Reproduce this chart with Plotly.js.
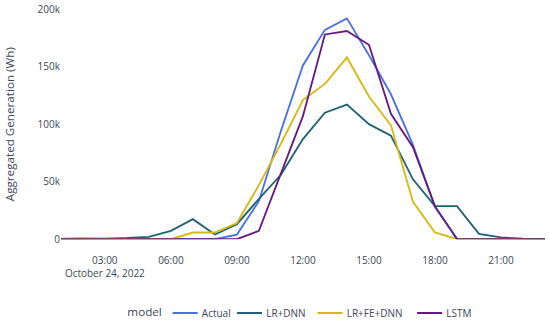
<!DOCTYPE html>
<html>
<head>
<meta charset="utf-8">
<script src="https://cdn.plot.ly/plotly-3.0.1.min.js"></script>
<style>
html,body{margin:0;padding:0;background:#fff;overflow:hidden;width:550px;height:323px;}
#chart{width:660px;height:388px;transform:scale(0.83333);transform-origin:0 0;}
</style>
</head>
<body>
<div id="chart"></div>
<script>
const hours = ["2022-10-24 01:00","2022-10-24 02:00","2022-10-24 03:00","2022-10-24 04:00","2022-10-24 05:00","2022-10-24 06:00","2022-10-24 07:00","2022-10-24 08:00","2022-10-24 09:00","2022-10-24 10:00","2022-10-24 11:00","2022-10-24 12:00","2022-10-24 13:00","2022-10-24 14:00","2022-10-24 15:00","2022-10-24 16:00","2022-10-24 17:00","2022-10-24 18:00","2022-10-24 19:00","2022-10-24 20:00","2022-10-24 21:00","2022-10-24 22:00","2022-10-24 23:00"];
const actual   = [0,0,0,0,0,0,0,0,4000,33000,94000,151000,182000,192000,160000,126000,82000,28000,500,0,0,0,0];
const lrDnn    = [0,0,500,1000,2000,7200,17400,4000,13000,35000,56000,87000,110000,117000,100000,90000,52000,28700,28700,4600,1500,500,0];
const lrFeDnn  = [500,1000,500,0,0,0,5800,5800,14000,47000,83000,121000,135000,158000,124000,99000,32500,5800,0,0,0,0,0];
const lstm     = [0,0,0,0,0,0,0,0,0,7200,57000,107000,178000,181000,169000,109000,80000,28700,0,0,0,0,0];
const seriesNames = ["Actual","LR+DNN","LR+FE+DNN","LSTM"];
const seriesData = [actual, lrDnn, lrFeDnn, lstm];
const colors = ["#4a6fe3","#1f6275","#d9b80f","#661a7e"];
const legendIds = ["legend","legend2","legend3","legend4"];
const legendX = [0.134, 0.3554, 0.5217, 0.7273];

const traces = seriesNames.map((n,i)=>({
  x: hours, y: seriesData[i], name: n, type: "scatter", mode: "lines",
  legend: legendIds[i],
  line: {color: colors[i], width: 2.2}
}));

const fontColor = "#3b4658";
const layout = {
  width: 660, height: 388,
  margin: {l: 73, r: 6, t: 11, b: 101, autoexpand: false},
  paper_bgcolor: "#fff", plot_bgcolor: "#fff",
  font: {family: "Open Sans, sans-serif", size: 12, color: fontColor},
  showlegend: true,
  xaxis: {
    type: "date", showgrid: false, zeroline: false, showline: false,
    tickformat: "%H:%M\n%B %-d, %Y", dtick: 3*3600*1000,
    tick0: "2022-10-24 00:00", automargin: false,
    ticks: "outside", ticklen: 14, tickcolor: "rgba(0,0,0,0)",
    tickfont: {size: 12, color: fontColor}
  },
  yaxis: {
    range: [0, 200000], showgrid: false, zeroline: false, showline: false,
    dtick: 50000, tickformat: "~s", automargin: false,
    title: {text: "Aggregated Generation (Wh)", font: {size: 14, color: fontColor}, standoff: 24},
    tickfont: {size: 12, color: fontColor}
  }
};
legendIds.forEach((id,i)=>{
  layout[id] = {
    orientation: "h", x: legendX[i], xanchor: "left", y: -0.321, yanchor: "middle",
    font: {size: 12, color: fontColor}, bgcolor: "rgba(0,0,0,0)"
  };
});
layout.legend.title = {text: "model", font: {size: 14, color: fontColor}};
Plotly.newPlot("chart", traces, layout, {displayModeBar: false, staticPlot: true});
</script>
</body>
</html>
